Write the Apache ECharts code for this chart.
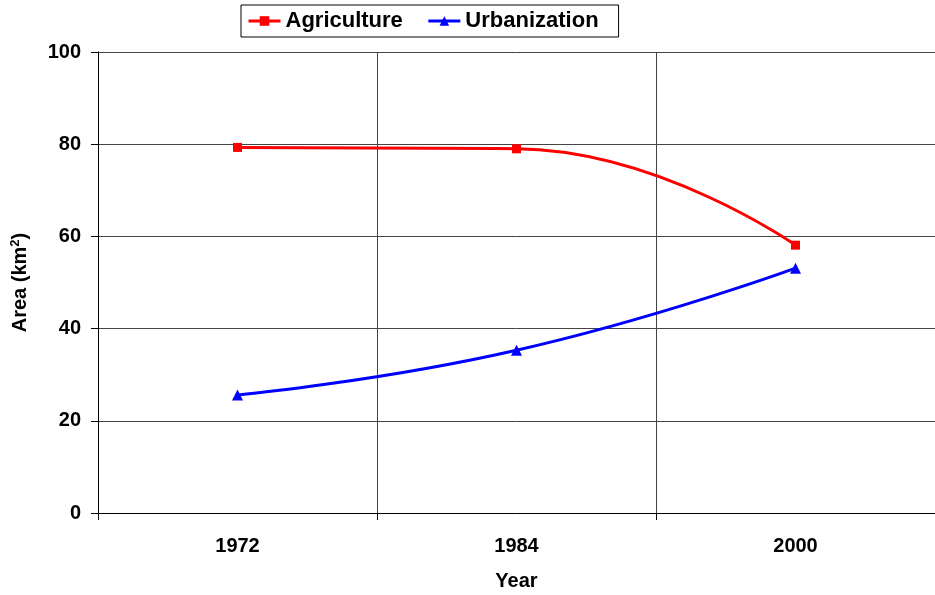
<!DOCTYPE html>
<html>
<head>
<meta charset="utf-8">
<script src="https://cdn.jsdelivr.net/npm/echarts@6/dist/echarts.min.js"></script>
<style>html,body{margin:0;padding:0;background:#fff}#main{width:935px;height:595px}</style>
</head>
<body>
<div id="main"></div>
<script>
// 数据
const years = ['1972', '1984', '2000'];
const agriculture = [79.3, 79.0, 58.1];
const urbanization = [25.6, 35.3, 53.1];

const chart = echarts.init(document.getElementById('main'), null, { renderer: 'canvas' });
const font = 'Liberation Sans, Arial, sans-serif';
const boldText = { fontFamily: font, fontWeight: 'bold', fontSize: 20, color: '#000' };

const option = {
  animation: false,
  backgroundColor: '#fff',
  textStyle: { fontFamily: font },
  legend: {
    top: 5,
    left: 241,
    padding: [5, 20, 5, 6],
    itemGap: 24,
    itemWidth: 32,
    itemHeight: 12,
    borderColor: '#000',
    borderWidth: 1,
    lineStyle: { width: 3 },
    textStyle: { fontFamily: font, fontWeight: 'bold', fontSize: 22, color: '#000' },
    data: ['Agriculture', 'Urbanization']
  },
  grid: { left: 98, right: 0, top: 52, bottom: 82, containLabel: false, outerBoundsMode: 'none' },
  xAxis: {
    type: 'category',
    data: years,
    boundaryGap: true,
    name: 'Year',
    nameLocation: 'middle',
    nameGap: 58,
    nameTextStyle: boldText,
    axisLine: { lineStyle: { color: '#000', width: 1 } },
    axisTick: { show: true, length: 7, lineStyle: { color: '#000' } },
    axisLabel: Object.assign({ margin: 23 }, boldText),
    splitLine: { show: true, lineStyle: { color: '#444', width: 1 } }
  },
  yAxis: {
    type: 'value',
    min: 0,
    max: 100,
    interval: 20,
    name: 'Area (km{sup|2})',
    nameLocation: 'middle',
    nameGap: 66,
    nameRotate: 90,
    nameTextStyle: Object.assign({
      rich: { sup: { fontFamily: font, fontWeight: 'bold', fontSize: 13, color: '#000', verticalAlign: 'bottom', padding: [0, 0, 10, 0] } }
    }, boldText),
    axisLine: { show: true, lineStyle: { color: '#000', width: 1 } },
    axisTick: { show: true, length: 7, lineStyle: { color: '#000' } },
    axisLabel: Object.assign({ margin: 17 }, boldText),
    splitLine: { show: true, lineStyle: { color: '#444', width: 1 } }
  },
  series: [
    {
      name: 'Agriculture',
      type: 'line',
      data: agriculture,
      smooth: 0.5,
      symbol: 'rect',
      symbolSize: 9,
      color: '#ff0000',
      lineStyle: { width: 3, color: '#ff0000' },
      itemStyle: { color: '#ff0000' }
    },
    {
      name: 'Urbanization',
      type: 'line',
      data: urbanization,
      smooth: 0.5,
      symbol: 'triangle',
      symbolSize: 11,
      color: '#0000ff',
      lineStyle: { width: 3, color: '#0000ff' },
      itemStyle: { color: '#0000ff' }
    }
  ]
};

chart.setOption(option);
</script>
</body>
</html>
